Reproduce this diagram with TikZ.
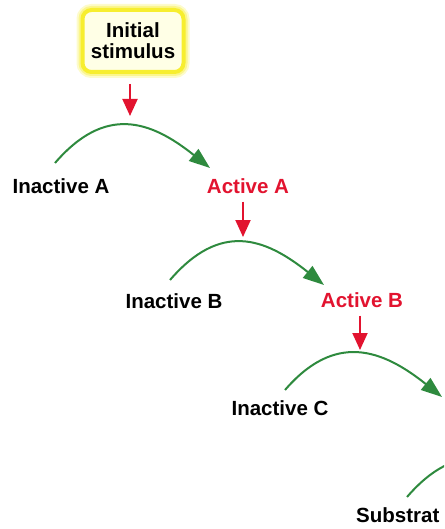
\documentclass[tikz,border=0pt]{standalone}
\usepackage{fontspec}
\setmainfont{Liberation Sans}
\usetikzlibrary{arrows.meta}
\definecolor{redarr}{HTML}{E2132F}
\definecolor{greenarc}{HTML}{2E8A3E}
\definecolor{glowyel}{HTML}{F7EE2F}
\definecolor{boxfill}{HTML}{FFFFE6}
\begin{document}
\begin{tikzpicture}[x=1pt,y=-1pt,
  lbl/.style={font=\fontsize{20.5}{20}\selectfont\bfseries, inner sep=0pt},
  actlbl/.style={lbl, text=redarr},
  stimbox/.style={lbl, align=center, minimum width=101pt, minimum height=62pt,
    rounded corners=9pt, fill=boxfill, draw=glowyel, line width=4pt,
    preaction={draw=glowyel!25, line width=12pt},
    preaction={draw=glowyel!55, line width=8pt}},
  redarrow/.style={draw=redarr, line width=2pt, -{Triangle[length=17pt,width=15pt]}},
  greenarrow/.style={draw=greenarc, line width=2pt, -{Triangle[length=21pt,width=15pt]}}]
\useasboundingbox (0,0) rectangle (444,529);
\clip (0,0) rectangle (444,529);
% nodes
\node[stimbox] (stim) at (133,41) {Initial\\[1pt]stimulus};
\node[lbl] (inA) at (61,186) {Inactive A};
\node[actlbl] (actA) at (248,186) {Active A};
\node[lbl] (inB) at (174,301) {Inactive B};
\node[actlbl] (actB) at (362,300) {Active B};
\node[lbl] (inC) at (280,408) {Inactive C};
\node[lbl, anchor=west] (sub) at (356,515) {Substrat};
% arc end points
\coordinate (sA) at (55,163);  \coordinate (eA) at (210,168);
\coordinate (sB) at (170,280); \coordinate (eB) at (324,285);
\coordinate (sC) at (285,390); \coordinate (eC) at (442,397);
\coordinate (sD) at (407,497); \coordinate (eD) at (562,502);
% red arrow tips
\coordinate (pA) at (130,116);
\coordinate (pB) at (243,237);
\coordinate (pC) at (360,350);
% red arrows
\draw[redarrow] (stim.south -| pA) ++(0,10) -- (pA);
\draw[redarrow] (actA.south -| pB) ++(0,8) -- (pB);
\draw[redarrow] (actB.south -| pC) ++(0,8) -- (pC);
% green arcs
\draw[greenarrow] (sA) .. controls +(50,-58) and +(-60,-48) .. (eA);
\draw[greenarrow] (sB) .. controls +(50,-58) and +(-60,-48) .. (eB);
\draw[greenarrow] (sC) .. controls +(50,-58) and +(-60,-48) .. (eC);
\draw[greenarrow] (sD) .. controls +(50,-58) and +(-60,-48) .. (eD);
\end{tikzpicture}
\end{document}
